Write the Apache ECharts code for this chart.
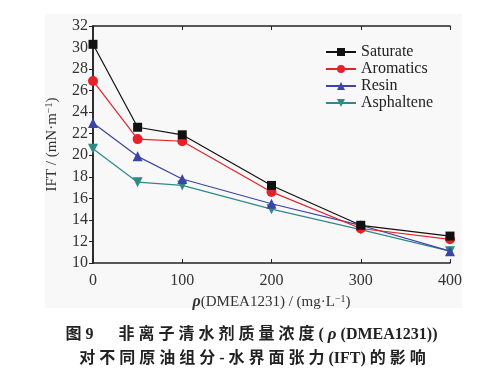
<!DOCTYPE html>
<html><head><meta charset="utf-8">
<script src="https://cdn.jsdelivr.net/npm/echarts@6/dist/echarts.min.js"></script>
<style>html,body{margin:0;padding:0;background:#fff}#c{width:501px;height:378px}</style>
</head><body><div id="c"></div>
<script>
const concentrations = [0, 50, 100, 200, 300, 400];
const saturate   = [30.3, 22.6, 21.9, 17.2, 13.5, 12.5];
const aromatics  = [26.9, 21.5, 21.3, 16.6, 13.2, 12.2];
const resin      = [23.0, 19.9, 17.8, 15.5, 13.5, 11.1];
const asphaltene = [20.6, 17.5, 17.2, 15.0, 13.1, 11.1];
const seriesNames = ['Saturate', 'Aromatics', 'Resin', 'Asphaltene'];
const xTicks = [0, 100, 200, 300, 400];
const yTicks = [10, 12, 14, 16, 18, 20, 22, 24, 26, 28, 30, 32];
const captionLine1a = '图 9';
const captionLine1b = '非离子清水剂质量浓度(';
const captionLine1rho = 'ρ';
const captionLine1c = '(DMEA1231))';
const captionLine2 = '对不同原油组分-水界面张力(IFT)的影响';

const chart = echarts.init(document.getElementById('c'));
const serif = 'Liberation Serif';
const colors = ['#111111', '#e8202a', '#3b45a6', '#2f8a86'];
const symbols = ['rect', 'circle', 'triangle', 'triangle'];
const rotates = [0, 0, 0, 180];
const sizes = [9, 10, 10, 10];
const data = [saturate, aromatics, resin, asphaltene];

function pairs(arr) { return concentrations.map((c, i) => [c, arr[i]]); }
// add letter spacing next to CJK glyphs
function spaced(s) {
  const ch = Array.from(s);
  const cjk = c => c.codePointAt(0) > 0x2E80;
  let out = '';
  for (let i = 0; i < ch.length; i++) {
    out += ch[i];
    if (i < ch.length - 1 && (cjk(ch[i]) || cjk(ch[i + 1]))) out += '\u2005';
  }
  return out;
}

const series = seriesNames.map((n, k) => ({
  name: n, type: 'line', data: pairs(data[k]),
  symbol: symbols[k], symbolRotate: rotates[k], symbolSize: sizes[k],
  lineStyle: { color: colors[k], width: 1.2 },
  itemStyle: { color: colors[k] },
  z: 10 - k
}));

const capFont = { fontFamily: '"Liberation Serif", "Noto Sans CJK SC"', fontWeight: 'bold', fontSize: 16, fill: '#222' };

chart.setOption({
  animation: false,
  backgroundColor: '#ffffff',
  graphic: [
    { type: 'rect', shape: { x: 45, y: 14, width: 417, height: 294 }, style: { fill: '#f8f8f8' }, z: -10 },
    { type: 'text', x: 251.5, y: 335, style: Object.assign({}, capFont, {
        text: '{a|' + captionLine1a + '}{g|}{a|' + spaced(captionLine1b) + '\u2005}{r|' + captionLine1rho + '}{a|\u2005' + spaced(captionLine1c) + '}',
        align: 'center', verticalAlign: 'middle',
        rich: {
          a: { fontFamily: '"Liberation Serif", "Noto Sans CJK SC"', fontWeight: 'bold', fontSize: 16, color: '#222' },
          g: { width: 25 },
          r: { fontFamily: serif, fontStyle: 'italic', fontWeight: 'bold', fontSize: 17, color: '#222' }
        } }) },
    { type: 'text', x: 252.5, y: 359, style: Object.assign({}, capFont, {
        text: spaced(captionLine2), align: 'center', verticalAlign: 'middle' }) }
  ],
  grid: { left: 93, right: 51, top: 26, bottom: 115 },
  legend: {
    orient: 'vertical', left: 320, top: 39, itemWidth: 30, itemHeight: 10, itemGap: 1,
    textStyle: { fontFamily: serif, fontSize: 16, color: '#222' },
    data: seriesNames
  },
  xAxis: [{
    type: 'value', min: 0, max: 400, interval: 100,
    name: '{r|ρ}(DMEA1231) / (mg·L{s|−1})', nameLocation: 'middle', nameGap: 26,
    nameTextStyle: { fontFamily: serif, fontSize: 15, color: '#333',
      rich: { r: { fontFamily: serif, fontSize: 16, fontStyle: 'italic', fontWeight: 'bold', color: '#333' },
              s: { fontFamily: serif, fontSize: 10, verticalAlign: 'top', color: '#333', padding: [0,0,6,0] } } },
    axisLine: { lineStyle: { color: '#222', width: 1.5 } },
    axisTick: { inside: true, length: 4, lineStyle: { color: '#222' } },
    axisLabel: { fontFamily: serif, fontSize: 16, color: '#333', margin: 10, formatter: v => xTicks.includes(v) ? String(v) : '' },
    splitLine: { show: false }
  }, {
    type: 'value', position: 'top', min: 0, max: 400, interval: 100,
    axisLine: { show: true, lineStyle: { color: '#222', width: 1.5 } },
    axisTick: { show: true, inside: true, length: 4, lineStyle: { color: '#222' } },
    axisLabel: { show: false }, splitLine: { show: false }
  }],
  yAxis: [{
    type: 'value', min: 10, max: 32, interval: 2,
    name: 'IFT / (mN·m{s|−1})', nameLocation: 'middle', nameGap: 33,
    nameTextStyle: { fontFamily: serif, fontSize: 15, color: '#333',
      rich: { s: { fontFamily: serif, fontSize: 10, verticalAlign: 'top', color: '#333', padding: [0,0,6,0] } } },
    axisLine: { show: true, lineStyle: { color: '#222', width: 1.5 } },
    axisTick: { show: true, length: 4, lineStyle: { color: '#222' } },
    axisLabel: { fontFamily: serif, fontSize: 16, color: '#333', margin: 5, formatter: v => yTicks.includes(v) ? String(v) : '' },
    splitLine: { show: false }
  }, {
    type: 'value', position: 'right', min: 10, max: 32, interval: 2,
    axisLine: { show: true, lineStyle: { color: '#222', width: 1.5 } },
    axisTick: { show: false }, axisLabel: { show: false }, splitLine: { show: false }
  }],
  series: series
});
</script></body></html>
